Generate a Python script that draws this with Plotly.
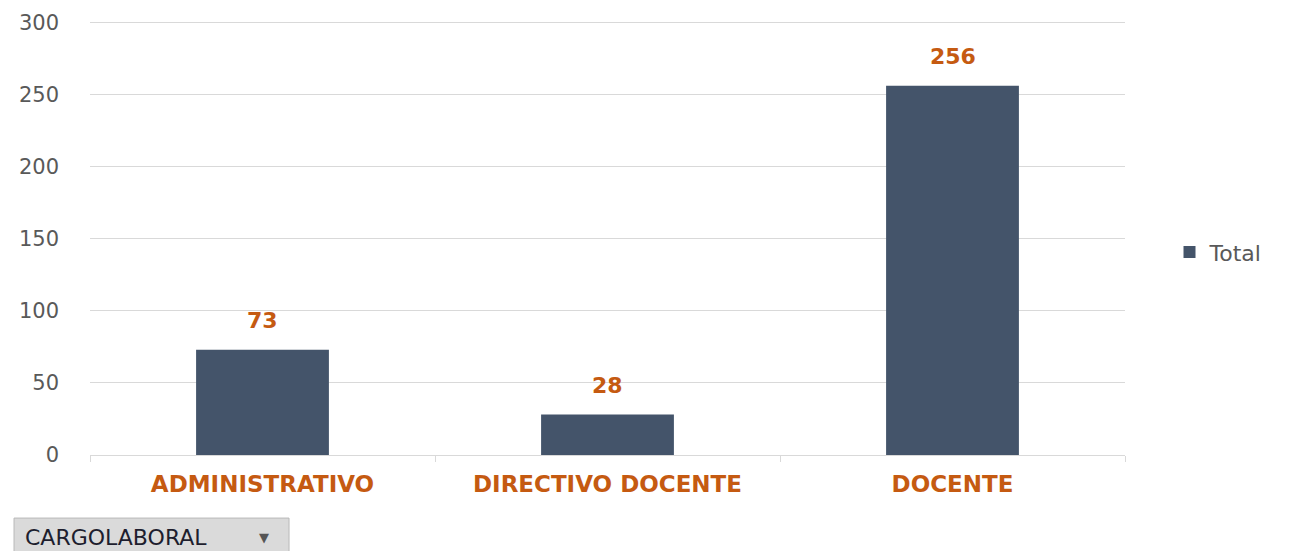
import plotly.graph_objects as go

categories = ["ADMINISTRATIVO", "DIRECTIVO DOCENTE", "DOCENTE"]
values = [73, 28, 256]
series_name = "Total"
y_ticks = [0, 50, 100, 150, 200, 250, 300]

bar_color = "#44546A"
orange = "#C55A11"
gray_text = "#595959"
FONT = "DejaVu Sans"

fig = go.Figure()
fig.add_trace(go.Bar(
    x=categories, y=values, name=series_name,
    marker=dict(color=bar_color, line=dict(width=0)),
    showlegend=True,
))

for c, v in zip(categories, values):
    fig.add_annotation(
        x=c, y=v, text=f"<b>{v}</b>", showarrow=False,
        yanchor="bottom", yshift=15,
        font=dict(family=FONT, size=22, color=orange),
    )

# Pivot field button
fig.add_shape(type="rect", xref="paper", yref="paper",
              x0=-0.0734, x1=0.1923, y0=-0.145, y1=-0.26,
              fillcolor="#DADADA", line=dict(color="#B8B8B8", width=1), layer="above")
fig.add_annotation(xref="paper", yref="paper", x=-0.065, y=-0.189,
                   xanchor="left", yanchor="middle", showarrow=False,
                   text="CARGOLABORAL", font=dict(family=FONT, size=22, color="#1E1E2E"))
fig.add_annotation(xref="paper", yref="paper", x=0.168, y=-0.189,
                   xanchor="center", yanchor="middle", showarrow=False,
                   text="▼", font=dict(family=FONT, size=13, color="#555555"))

fig.update_layout(
    width=1282, height=543,
    margin=dict(l=82, r=165, t=12, b=96, autoexpand=False),
    paper_bgcolor="white", plot_bgcolor="white",
    bargap=0.615,
    font=dict(family=FONT, color=gray_text),
    legend=dict(x=1.043, y=0.466, xanchor="left", yanchor="middle",
                font=dict(family=FONT, size=22, color=gray_text),
                bgcolor="rgba(0,0,0,0)"),
    xaxis=dict(
        type="category", automargin=False,
        showgrid=False, showline=True, linecolor="#D9D9D9", linewidth=1,
        ticks="outside", tickson="boundaries", ticklen=6, tickcolor="#D9D9D9",
        tickfont=dict(family=FONT, size=23, color=orange, weight="bold"),
        ticklabelstandoff=8,
        fixedrange=True,
    ),
    yaxis=dict(
        range=[0, 301.5], tickvals=y_ticks, automargin=False,
        showgrid=True, gridcolor="#D9D9D9", gridwidth=1,
        zeroline=False, showline=False,
        tickfont=dict(family=FONT, size=21, color=gray_text),
        ticklabelstandoff=30,
        fixedrange=True,
    ),
)

fig.write_html("out.html")
